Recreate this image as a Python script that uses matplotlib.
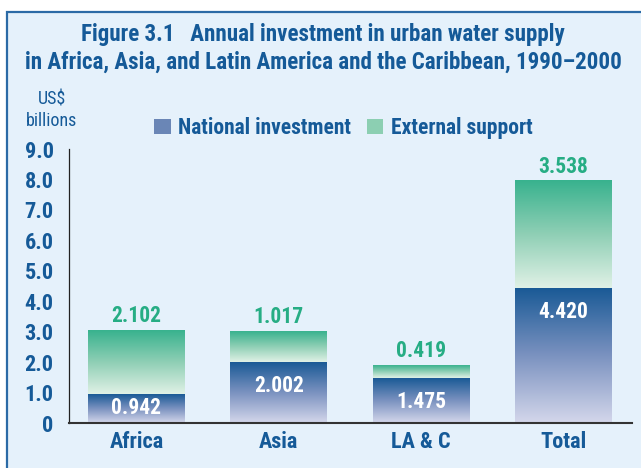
import numpy as np
import matplotlib
matplotlib.use("Agg")
import matplotlib.pyplot as plt
from matplotlib.patches import Rectangle
from matplotlib.colors import LinearSegmentedColormap
from matplotlib import font_manager

categories = ["Africa", "Asia", "LA & C", "Total"]
national = [0.942, 2.002, 1.475, 4.420]
external = [2.102, 1.017, 0.419, 3.538]
yticks = [0, 1, 2, 3, 4, 5, 6, 7, 8, 9]
yticklabels = ["0", "1.0", "2.0", "3.0", "4.0", "5.0", "6.0", "7.0", "8.0", "9.0"]

names = {f.name for f in font_manager.fontManager.ttflist}
condensed = None
for cand in ["Liberation Sans Narrow", "Roboto Condensed", "Open Sans Condensed",
             "Noto Sans Condensed", "DejaVu Sans Condensed", "Arial Narrow"]:
    if cand in names:
        condensed = cand
        break
if condensed:
    FONT = [condensed, "DejaVu Sans"]
    S = 1.0
else:
    FONT = ["Liberation Sans", "DejaVu Sans"]
    S = 0.86
plt.rcParams["font.family"] = FONT
DARK = "#155a98"
GREEN_TXT = "#26ad84"
BG = "#e5f1fb"

fig = plt.figure(figsize=(6.41, 4.68), dpi=100)
fig.patch.set_facecolor("white")
W, H = 641, 468
frame = Rectangle((7 / W, -0.05), 1.0, (H - 12) / H + 0.05, transform=fig.transFigure,
                  facecolor=BG, edgecolor="#2b6aa6", linewidth=1.6, zorder=-5)
fig.patches.append(frame)

ax = fig.add_axes([69 / W, (H - 423) / H, (632 - 69) / W, (423 - 149) / H])
ax.set_zorder(2)
ax.set_facecolor("none")

x = np.arange(len(categories))
width = 0.68
nat_cmap = LinearSegmentedColormap.from_list("nat", ["#d4d7eb", "#7b92c0", "#1a5a96"])
ext_cmap = LinearSegmentedColormap.from_list("ext", ["#e0f1e6", "#8fcfb5", "#38b28e"])

nat_bars = ax.bar(x, national, width, color="none", edgecolor="none")
ext_bars = ax.bar(x, external, width, bottom=national, color="none", edgecolor="none")

grad = np.linspace(0, 1, 256).reshape(-1, 1)
for bars, cmap in ((nat_bars, nat_cmap), (ext_bars, ext_cmap)):
    for b in bars:
        x0, y0 = b.get_x(), b.get_y()
        w, h = b.get_width(), b.get_height()
        ax.imshow(grad, cmap=cmap, aspect="auto", origin="lower",
                  extent=(x0, x0 + w, y0, y0 + h), zorder=2, interpolation="bicubic")

for i in range(len(categories)):
    top = national[i] + external[i]
    ax.text(x[i], top + 0.27, f"{external[i]:.3f}", ha="center", va="baseline",
            color=GREEN_TXT, fontsize=15.5 * S, fontweight="bold", zorder=4)
    ly = max(national[i] - 0.97, national[i] * 0.32)
    ax.text(x[i], ly, f"{national[i]:.3f}", ha="center", va="baseline",
            color="white", fontsize=15.5 * S, fontweight="bold", zorder=4)

ax.set_xlim(-0.474, 3.482)
ax.set_ylim(0, 9)
ax.set_yticks(yticks)
ax.set_yticklabels(yticklabels)
ax.set_xticks(x)
ax.set_xticklabels(categories)
ax.tick_params(axis="y", length=0, pad=11, labelsize=16 * S, labelcolor=DARK)
ax.tick_params(axis="x", length=0, pad=6, labelsize=16 * S, labelcolor=DARK)
for lab in ax.get_yticklabels() + ax.get_xticklabels():
    lab.set_fontweight("bold")
for s in ("top", "right"):
    ax.spines[s].set_visible(False)
ax.spines["left"].set_color("#222222")
ax.spines["left"].set_linewidth(0.9)
ax.spines["bottom"].set_color("#333333")
ax.spines["bottom"].set_linewidth(1.5)
ax.set_xlim(-0.474, 3.482)
ax.set_ylim(0, 9)

fig.text(323 / W, 1 - 35 / H, "Figure 3.1   Annual investment in urban water supply",
         ha="center", va="center", fontsize=16.6 * S, fontweight="bold", color=DARK)
fig.text(323 / W, 1 - 62 / H, "in Africa, Asia, and Latin America and the Caribbean, 1990\u20132000",
         ha="center", va="center", fontsize=16.6 * S, fontweight="bold", color=DARK)
fig.text(52 / W, 1 - 100 / H, "US$", ha="center", va="center", fontsize=13 * S, color=DARK)
fig.text(51.5 / W, 1 - 121 / H, "billions", ha="center", va="center", fontsize=13 * S, color=DARK)

handles = [Rectangle((0, 0), 1, 1, facecolor="#6a86b6"), Rectangle((0, 0), 1, 1, facecolor="#8ccfb2")]
leg = fig.legend(handles, ["National investment", "External support"], loc="center left",
                 bbox_to_anchor=(135 / W, 1 - 128 / H), ncol=2, frameon=False,
                 handlelength=0.75, handleheight=0.75, handletextpad=0.35, columnspacing=0.75,
                 prop={"family": FONT, "weight": "bold", "size": 15.5 * S})
for t in leg.get_texts():
    t.set_color(DARK)

fig.savefig("out.png", dpi=100)
